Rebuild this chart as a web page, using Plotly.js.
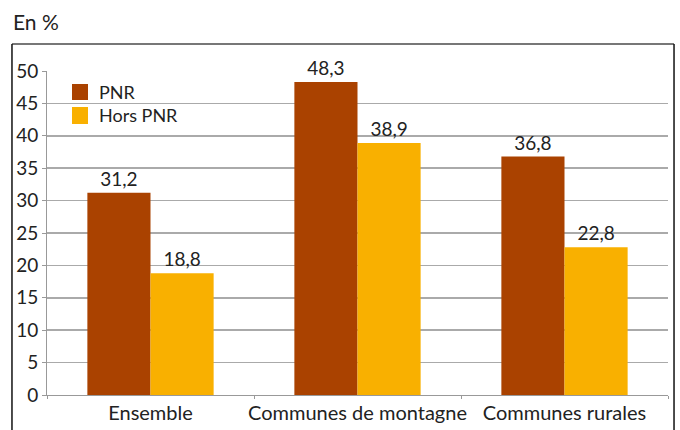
<!DOCTYPE html>
<html>
<head>
<meta charset="utf-8">
<script src="https://cdn.plot.ly/plotly-3.0.1.min.js"></script>
<style>html,body{margin:0;padding:0;background:#fff;}</style>
</head>
<body>
<div id="chart" style="width:680px;height:430px;"></div>
<script>
const categories = ["Ensemble", "Communes de montagne", "Communes rurales"];
const pnrValues = [31.2, 48.3, 36.8];
const horsPnrValues = [18.8, 38.9, 22.8];
const seriesNames = ["PNR", "Hors PNR"];
const seriesColors = ["#AA4200", "#F9B000"];
const yTicks = [0, 5, 10, 15, 20, 25, 30, 35, 40, 45, 50];

const FONT = "Lato, sans-serif";
const FS = 19;
const traces = [
  {type: "bar", name: seriesNames[0], x: categories, y: pnrValues,
   marker: {color: seriesColors[0]}, texttemplate: "%{y:.1f}",
   textposition: "outside", cliponaxis: false,
   textfont: {family: FONT, size: FS, color: "#222"}},
  {type: "bar", name: seriesNames[1], x: categories, y: horsPnrValues,
   marker: {color: seriesColors[1]}, texttemplate: "%{y:.1f}",
   textposition: "outside", cliponaxis: false,
   textfont: {family: FONT, size: FS, color: "#222"}}
];

const lg = [
  {y0: 0.9105, y1: 0.9599, ty: 0.9352},
  {y0: 0.8364, y1: 0.8889, ty: 0.8642}
];

const layout = {
  width: 680, height: 430,
  margin: {l: 47, r: 12, t: 71, b: 35},
  separators: ", ",
  font: {family: FONT, size: FS, color: "#222"},
  paper_bgcolor: "#fff", plot_bgcolor: "#fff",
  barmode: "group", bargap: 0.39, bargroupgap: 0,
  showlegend: false,
  xaxis: {showgrid: false, zeroline: false, showline: true, linecolor: "#999", linewidth: 1,
          ticks: "outside", tickson: "boundaries", ticklen: 3, tickcolor: "#999",
          tickangle: 0, automargin: false,
          tickfont: {family: FONT, size: 20, color: "#222"}},
  yaxis: {range: [0, 50], tickvals: yTicks, ticktext: yTicks.map(String),
          showgrid: true, gridcolor: "#aaa", gridwidth: 1.5, zeroline: false,
          showline: true, linecolor: "#999", linewidth: 1,
          ticks: "outside", ticklen: 4, tickcolor: "#999",
          tickfont: {family: FONT, size: FS, color: "#222"}},
  annotations: [
    {text: "En %", xref: "paper", yref: "paper", x: -0.058, y: 1.154,
     xanchor: "left", yanchor: "middle", showarrow: false,
     font: {family: FONT, size: 21, color: "#222"}}
  ].concat(seriesNames.map((n, i) => ({
     text: n, xref: "paper", yref: "paper", x: 0.0805, y: lg[i].ty,
     xanchor: "left", yanchor: "middle", showarrow: false,
     font: {family: FONT, size: FS - 1, color: "#222"}}))),
  shapes: [
    {type: "line", xref: "paper", yref: "paper", x0: -0.0564, x1: 1.0097, y0: 1.0833, y1: 1.0833,
     line: {color: "#777", width: 2}},
    {type: "line", xref: "paper", yref: "paper", x0: -0.0564, x1: -0.0564, y0: 1.0833, y1: -0.2,
     line: {color: "#111", width: 1.5}},
    {type: "line", xref: "paper", yref: "paper", x0: 1.0097, x1: 1.0097, y0: 1.0833, y1: -0.2,
     line: {color: "#111", width: 1.5}}
  ].concat(seriesNames.map((n, i) => ({
     type: "rect", xref: "paper", yref: "paper", x0: 0.0403, x1: 0.066, y0: lg[i].y0, y1: lg[i].y1,
     fillcolor: seriesColors[i], line: {width: 0}})))
};

Plotly.newPlot("chart", traces, layout, {displayModeBar: false, staticPlot: true});
</script>
</body>
</html>
